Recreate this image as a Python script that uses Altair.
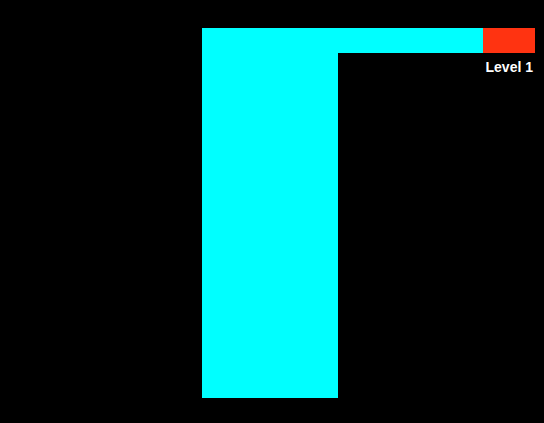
import altair as alt
import pandas as pd
import jinja2

# Blocks of the chart (in chart units; x grows right, y grows down)
names = ["Column", "Bar", "Level 1"]
x_start = [194, 194, 475]
x_end = [330, 475, 527]
y_start = [20, 20, 20]
y_end = [390, 45, 45]
colors = ["#00FFFF", "#00FFFF", "#FF3311"]

labels = ["Level 1"]
label_x = [525]
label_y = [64]

df = pd.DataFrame({"name": names, "x0": x_start, "x1": x_end,
                   "y0": y_start, "y1": y_end, "color": colors})
lab = pd.DataFrame({"text": labels, "x": label_x, "y": label_y})

W, H = 528, 407
xs = alt.Scale(domain=[0, W], nice=False, zero=False)
ys = alt.Scale(domain=[0, H], nice=False, zero=False, reverse=True)

rects = alt.Chart(df).mark_rect().encode(
    x=alt.X("x0:Q", scale=xs, axis=None),
    x2="x1",
    y=alt.Y("y0:Q", scale=ys, axis=None),
    y2="y1",
    color=alt.Color("color:N", scale=None),
)

text = alt.Chart(lab).mark_text(
    align="right", baseline="alphabetic", color="white",
    font="Liberation Sans", fontWeight="bold", fontSize=14,
).encode(
    x=alt.X("x:Q", scale=xs, axis=None),
    y=alt.Y("y:Q", scale=ys, axis=None),
    text="text:N",
)

chart = (rects + text).properties(
    width=W, height=H, padding=0, autosize=alt.AutoSizeParams(type="none"),
    background="black",
).configure_view(stroke=None)

PAGE = jinja2.Template("""<!DOCTYPE html>
<html>
<head>
  <style>
    body { background: #000000; }
    #{{ output_div }}.vega-embed { width: 100%; display: flex; }
  </style>
  <script type="text/javascript" src="{{ base_url }}/vega@{{ vega_version }}"></script>
  <script type="text/javascript" src="{{ base_url }}/vega-lite@{{ vegalite_version }}"></script>
  <script type="text/javascript" src="{{ base_url }}/vega-embed@{{ vegaembed_version }}"></script>
</head>
<body>
  <div id="{{ output_div }}"></div>
  <script>
    (function(vegaEmbed) {
      var spec = {{ spec }};
      var embedOpt = {{ embed_options }};
      vegaEmbed("#{{ output_div }}", spec, embedOpt);
    })(vegaEmbed);
  </script>
</body>
</html>
""")

try:
    chart.save("out.html", embed_options={"renderer": "svg", "actions": False},
               template=PAGE)
except Exception:
    chart.save("out.html", embed_options={"renderer": "svg", "actions": False})
